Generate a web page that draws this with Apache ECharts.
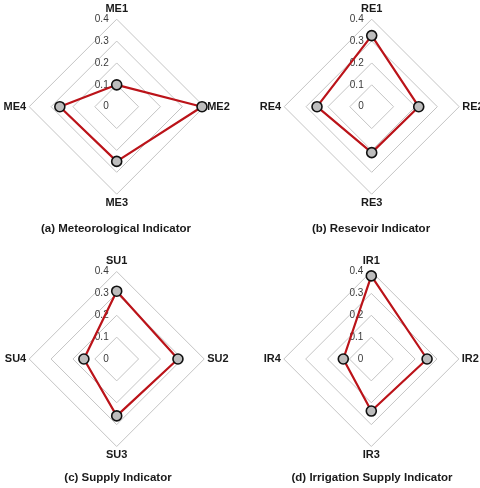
<!DOCTYPE html>
<html lang="en">
<head>
  <meta charset="UTF-8">
  <title>Indicator radars</title>
  <script src="https://cdn.jsdelivr.net/npm/echarts@6/dist/echarts.min.js"></script>
</head>
<body style="margin:0">
<div id="main" style="width:480px;height:488px;"></div>
<script type="text/javascript">

const meNames = ['ME1', 'ME2', 'ME3', 'ME4'];
const meValues = [0.10, 0.39, 0.25, 0.26];
const reNames = ['RE1', 'RE2', 'RE3', 'RE4'];
const reValues = [0.325, 0.215, 0.21, 0.25];
const suNames = ['SU1', 'SU2', 'SU3', 'SU4'];
const suValues = [0.31, 0.28, 0.26, 0.15];
const irNames = ['IR1', 'IR2', 'IR3', 'IR4'];
const irValues = [0.38, 0.255, 0.238, 0.128];
const captions = ['(a) Meteorological Indicator', '(b) Resevoir Indicator',
  '(c) Supply Indicator', '(d) Irrigation Supply Indicator'];
const axisMax = 0.4;

const centers = [[116.7, 106.7], [371.7, 106.7], [116.7, 359], [371.3, 359]];
const groups = [[meNames, meValues], [reNames, reValues], [suNames, suValues], [irNames, irValues]];

// echarts places indicators counter-clockwise, so go 1,4,3,2 to get 1 top / 2 right
const order = [0, 3, 2, 1];

const myChart = echarts.init(document.getElementById('main'));

const radars = groups.map(function (g, idx) {
  return {
    center: centers[idx],
    radius: 87.5,
    startAngle: 90,
    splitNumber: 4,
    shape: 'polygon',
    nameGap: 3,
    axisName: {color: '#1a1a1a', fontSize: 11, fontWeight: 'bold', fontFamily: 'Liberation Sans, Arial'},
    indicator: order.map(function (i, k) {
      return {name: g[0][i], min: 0, max: axisMax, axisLabel: {show: k === 0}};
    }),
    axisLine: {show: false},
    axisTick: {show: false},
    axisLabel: {show: true, color: '#3a3a3a', fontSize: 10, margin: 8, fontFamily: 'Liberation Sans, Arial'},
    splitLine: {lineStyle: {color: '#c4c4c4', width: 1}},
    splitArea: {show: false}
  };
});

const series = groups.map(function (g, idx) {
  return {
    type: 'radar',
    radarIndex: idx,
    symbol: 'circle',
    symbolSize: 10,
    lineStyle: {color: '#bb1319', width: 2.2},
    itemStyle: {color: '#bdbdbd', borderColor: '#111', borderWidth: 1.6},
    data: [{value: order.map(function (i) { return g[1][i]; })}]
  };
});

const capPos = [[116, 228.5], [371, 228.5], [118, 477.5], [372, 477.5]];
const graphic = captions.map(function (c, idx) {
  return {
    type: 'text',
    x: capPos[idx][0],
    y: capPos[idx][1],
    style: {
      text: c, fill: '#1a1a1a', fontSize: 11.5, fontWeight: 'bold',
      fontFamily: 'Liberation Sans, Arial', textAlign: 'center', textVerticalAlign: 'middle'
    }
  };
});

myChart.setOption({
  animation: false,
  radar: radars,
  series: series,
  graphic: graphic
});
</script>
</body>
</html>
